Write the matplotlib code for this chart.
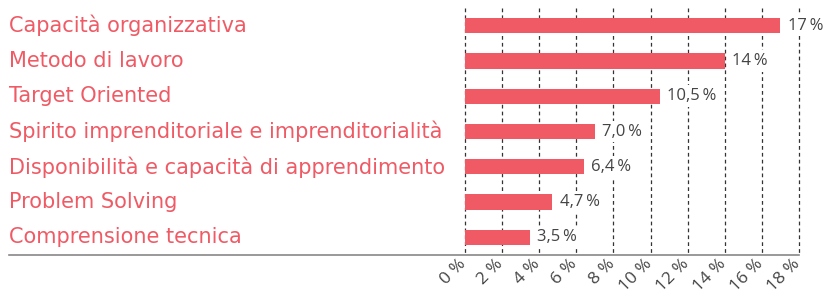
import matplotlib
matplotlib.use("Agg")
from matplotlib import pyplot as plt
from matplotlib import transforms
import numpy as np

# dati del grafico
categorie = ["Capacità organizzativa", "Metodo di lavoro", "Target Oriented",
             "Spirito imprenditoriale e imprenditorialità",
             "Disponibilità e capacità di apprendimento",
             "Problem Solving", "Comprensione tecnica"]
valori = [17, 14, 10.5, 7.0, 6.4, 4.7, 3.5]
etichette = ["17\u2009%", "14\u2009%", "10,5\u2009%", "7,0\u2009%", "6,4\u2009%", "4,7\u2009%", "3,5\u2009%"]
tick_valori = [0, 2, 4, 6, 8, 10, 12, 14, 16, 18]
tick_etichette = [f"{t} %" for t in tick_valori]

rosso = "#EF5A65"
grigio = "#444444"

fig = plt.figure(figsize=(8.23, 2.95), dpi=100)
ax = fig.add_axes([465/823, 1-255/295, 334/823, 247/295])

y = np.arange(len(categorie))
ax.set_ylim(len(categorie) - 0.5, -0.5)
ax.set_xlim(0, 18)

# griglia tratteggiata
ax.vlines(tick_valori, -0.5, len(categorie) - 0.5, colors="#333333",
          linestyles=(0, (3, 2.5)), linewidth=0.9, zorder=1, clip_on=False)

ax.barh(y, valori, height=0.43, color=rosso, zorder=2)

for yi, v, et in zip(y, valori, etichette):
    ax.text(v + 0.4, yi, et, va="center", ha="left", fontsize=12,
            color=grigio, family=["Open Sans", "DejaVu Sans"], zorder=3,
            bbox=dict(facecolor="white", edgecolor="none", pad=2))

# etichette categorie a sinistra
tr = transforms.blended_transform_factory(fig.transFigure, ax.transData)
for yi, c in zip(y, categorie):
    ax.text(9/823, yi, c, transform=tr, va="center", ha="left",
            fontsize=15, color=rosso, family="DejaVu Sans")

# linea di base
ax.axhline(len(categorie) - 0.5, xmin=-456/334, xmax=1, color="#888888",
           linewidth=1.2, clip_on=False, zorder=4)

ax.set_yticks([])
ax.set_xticks(tick_valori)
ax.set_xticklabels(tick_etichette, rotation=45, ha="right", va="top",
                   rotation_mode="anchor", fontsize=12.5, color=grigio,
                   family="Open Sans")
ax.tick_params(axis="x", length=0, pad=1)
spost = transforms.ScaledTranslation(-7/100, 0, fig.dpi_scale_trans)
for lab in ax.get_xticklabels():
    lab.set_transform(lab.get_transform() + spost)
for s in ax.spines.values():
    s.set_visible(False)

fig.savefig("out.png", dpi=100)
